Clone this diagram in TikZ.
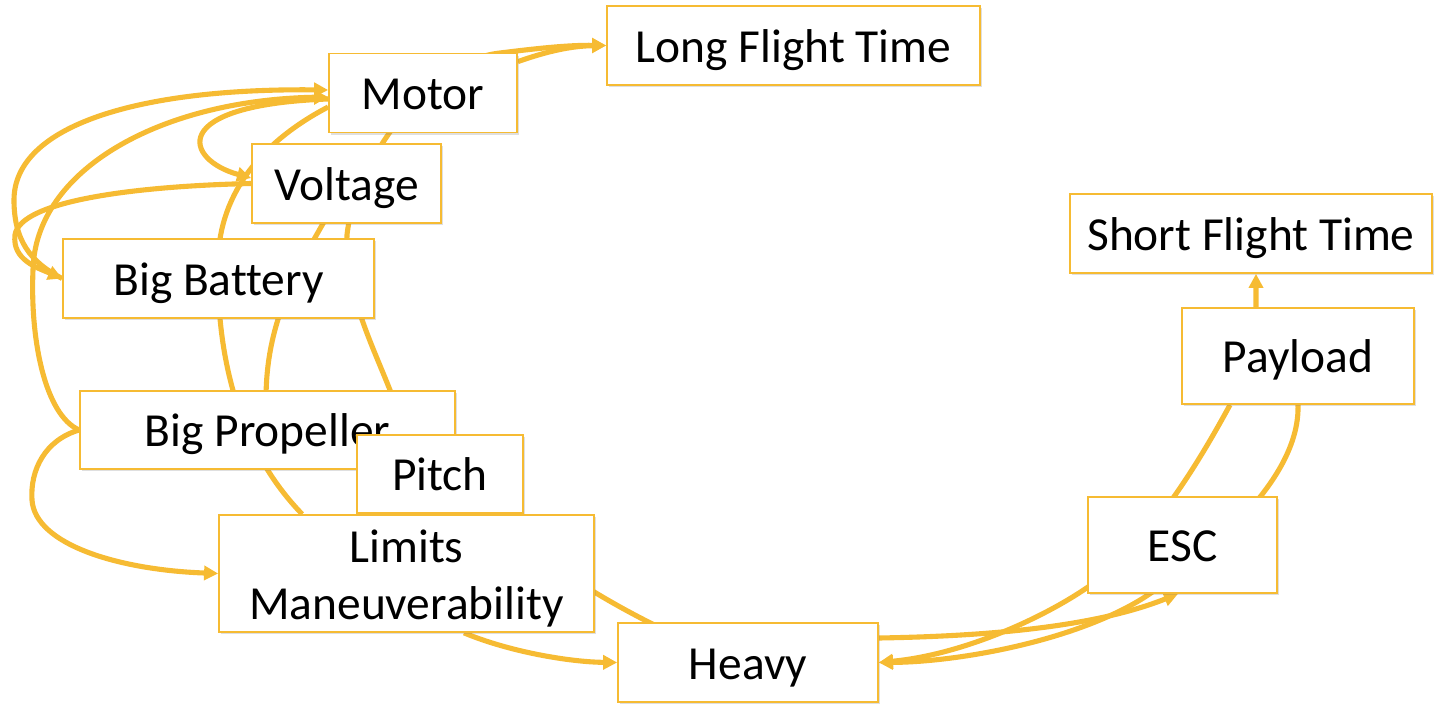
\documentclass[tikz,border=0pt]{standalone}
\usepackage{fontspec}
\setmainfont{Carlito}[Ligatures=NoCommon]
\usetikzlibrary{arrows.meta, backgrounds, shadows}
\definecolor{gold}{RGB}{246,187,51}
\tikzset{
  box/.style={draw=gold, line width=1pt, fill=white, inner sep=0pt, minimum height=1.58cm,
    font=\fontsize{27}{32.4}\selectfont, text height=24pt, text depth=5pt,
    drop shadow={shadow xshift=1.2pt, shadow yshift=-1.2pt, opacity=.25}},
  link/.style={draw=gold, line width=2.9pt},
  linkto/.style={link, -{Triangle[length=8pt,width=8pt]}}
}
\begin{document}
\begin{tikzpicture}[x=0.02cm, y=-0.02cm]
\useasboundingbox (0,0) rectangle (1434,706);
% boxes
\node[box, minimum width=7.46cm] (lft) at (793.5,45.5) {Long Flight Time};
\node[box, minimum width=3.76cm] (motor) at (423,93) {Motor};
\node[box, minimum width=3.78cm] (voltage) at (346.5,183.5) {Voltage};
\node[box, minimum width=6.22cm] (battery) at (218.5,278.5) {Big Battery};
\node[box, minimum width=7.5cm, minimum height=1.56cm] (propeller) at (267.5,430) {Big Propeller};
\node[box, minimum width=3.32cm, minimum height=1.56cm] (pitch) at (440,474) {Pitch};
\node[box, minimum width=7.5cm, minimum height=2.34cm, align=center, text height=, text depth=] (limits) at (406.5,573.5) {\rule{0pt}{24pt}Limits\\Maneuverability};
\node[box, minimum width=5.2cm] (heavy) at (748,662.5) {Heavy};
\node[box, minimum width=3.78cm, minimum height=1.92cm] (esc) at (1182.5,545) {ESC};
\node[box, minimum width=4.64cm, minimum height=1.92cm] (payload) at (1298,356) {Payload};
\node[box, minimum width=7.24cm] (sft) at (1251,233.5) {Short Flight Time};
% connectors
\begin{pgfonlayer}{background}
\draw[linkto] (heavy.center) .. controls (620,625) and (430,500) .. (390,390)
  .. controls (370,340) and (345,290) .. (347,235)
  .. controls (355,160) and (430,60) .. (500,53)
  .. controls (540,48) and (570,45) .. (lft.west);
\draw[linkto] ([yshift=-0.18cm]motor.north east) .. controls (545,52) and (570,46) .. (lft.west);
\draw[link] ([yshift=-0.28cm]motor.west) .. controls (265,140) and (220,190) .. (218,260)
  .. controls (216,360) and (240,450) .. ([xshift=1.68cm]limits.north west);
\draw[link] (voltage.center) .. controls (295,271) and (258,329) .. (propeller.center);
\draw[linkto] (battery.west) .. controls (30,262) and (14,240) .. (14,200)
  .. controls (14,125) and (140,88) .. ([yshift=0.06cm]motor.west);
\draw[linkto] (propeller.west) .. controls (45,415) and (30,340) .. (33,270)
  .. controls (35,170) and (160,100) .. ([yshift=-0.08cm]motor.west);
\draw[linkto] ([yshift=-0.12cm]motor.west) .. controls (165,105) and (185,160) .. ([yshift=0.11cm]voltage.west);
\draw[linkto] (voltage.west) .. controls (140,186) and (20,200) .. (15,235)
  .. controls (12,260) and (38,268) .. (battery.west);
\draw[linkto] (propeller.west) .. controls (45,440) and (30,470) .. (32,500)
  .. controls (35,545) and (120,570) .. (limits.west);
\draw[linkto] ([xshift=1.15cm]limits.south) .. controls (510,652) and (570,662) .. (heavy.west);
\draw[linkto] ([yshift=0.49cm]heavy.east) .. controls (1000,636) and (1100,625) .. ([xshift=-0.09cm]esc.south);
\draw[linkto] ([xshift=-1.36cm]payload.south) .. controls (1200,460) and (1150,545) .. (1088,587)
  .. controls (1040,620) and (960,655) .. (heavy.east);
\draw[linkto] (payload.south) .. controls (1300,470) and (1230,540) .. (1148,595)
  .. controls (1080,640) and (960,662) .. (heavy.east);
\draw[linkto] ([xshift=-0.84cm]payload.north) -- ([xshift=0.1cm]sft.south);
\end{pgfonlayer}
\end{tikzpicture}
\end{document}
